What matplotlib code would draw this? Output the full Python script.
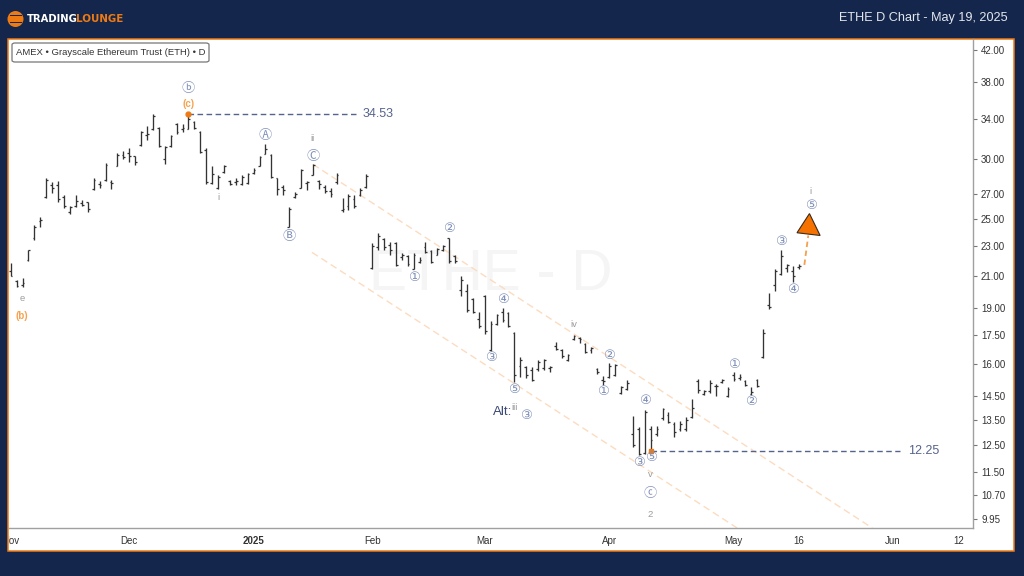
#!/usr/bin/env python3
# ETHE daily bars with Elliott wave labels, TradingLounge style

import numpy as np
import matplotlib
matplotlib.use("Agg")
import matplotlib.pyplot as plt
from matplotlib.patches import Rectangle, Circle, FancyBboxPatch, Polygon
from matplotlib.transforms import Bbox

plt.rcParams['font.family'] = ['Liberation Sans', 'DejaVu Sans']

# daily OHLC, one entry per trading day from Nov 1 2024 to May 16 2025
opens = [21.3, 20.65, 20.4, 22.0, 23.6, 24.8, 26.7, 27.7, 27.7, 26.7,
         25.5, 26.0, 26.2, 26.3, 27.4, 27.8, 28.2, 28.0, 29.4, 30.4,
         30.6, 30.3, 31.35, 32.3, 32.9, 33.0, 30.0, 31.3, 33.4, 32.9,
         32.95, 33.6, 32.6, 30.9, 27.9, 27.5, 28.9, 28.1, 28.0, 27.8,
         27.9, 28.8, 29.4, 30.5, 30.4, 28.3, 27.6, 24.4, 26.7, 27.5,
         27.9, 28.6, 28.1, 27.6, 27.2, 28.0, 25.7, 26.0, 26.6, 26.9,
         27.6, 21.5, 22.9, 23.5, 23.1, 23.2, 22.2, 22.3, 21.45, 21.9,
         22.9, 22.65, 22.4, 22.7, 23.55, 22.3, 20.1, 20.0, 19.55, 18.4,
         19.7, 16.7, 18.1, 18.8, 18.7, 17.6, 15.9, 15.85, 15.7, 15.75,
         15.8, 15.8, 16.9, 16.7, 16.2, 17.3, 17.35, 17.05, 16.7, 15.75,
         15.25, 15.4, 15.5, 14.65, 14.85, 12.9, 13.1, 12.2, 13.1, 12.9,
         13.55, 13.7, 13.3, 13.1, 13.1, 13.6, 15.2, 14.6, 14.75, 14.95,
         15.15, 14.5, 15.5, 15.35, 15.2, 14.6, 15.25, 16.35, 19.2, 20.4,
         21.1, 21.5, 21.3, 21.55]
highs = [21.8, 20.7, 20.85, 22.75, 24.5, 25.15, 28.35, 27.95, 28.05, 26.9,
         26.0, 26.9, 26.5, 26.35, 28.35, 28.1, 29.7, 28.2, 30.55, 30.75,
         31.05, 30.35, 32.7, 33.2, 34.45, 33.1, 31.3, 32.3, 33.5, 33.4,
         34.53, 33.7, 32.7, 31.05, 29.35, 28.55, 29.45, 28.2, 28.35, 28.55,
         28.8, 29.25, 30.35, 31.4, 30.45, 28.35, 27.75, 25.9, 27.15, 29.1,
         28.1, 29.55, 28.2, 27.7, 27.45, 28.75, 26.65, 26.95, 26.9, 27.45,
         28.7, 23.2, 23.95, 23.55, 23.25, 23.3, 22.5, 22.4, 22.5, 22.2,
         23.25, 22.7, 22.85, 23.1, 23.6, 22.4, 20.95, 20.45, 19.6, 18.8,
         19.8, 18.25, 18.65, 19.0, 18.8, 17.65, 16.35, 15.9, 15.85, 16.2,
         16.25, 15.9, 17.15, 16.75, 16.5, 17.5, 17.4, 17.1, 16.85, 15.8,
         15.45, 16.05, 16.0, 14.95, 15.25, 13.65, 13.2, 13.9, 13.25, 13.25,
         14.0, 13.8, 13.4, 13.45, 13.6, 14.4, 15.3, 14.8, 15.25, 15.05,
         15.3, 14.9, 15.6, 15.55, 15.25, 14.9, 15.3, 17.8, 19.9, 21.45,
         22.75, 21.75, 21.65, 21.75]
lows = [21.0, 20.3, 20.3, 21.95, 23.4, 24.35, 26.65, 27.05, 26.35, 25.85,
        25.4, 25.9, 26.0, 25.55, 27.3, 27.45, 28.1, 27.4, 29.35, 30.05,
        29.8, 29.45, 31.3, 31.8, 32.8, 31.2, 29.55, 31.2, 32.4, 32.6,
        32.9, 32.9, 30.55, 27.85, 27.8, 27.4, 28.8, 27.7, 27.7, 27.7,
        27.85, 28.7, 29.35, 30.45, 28.3, 26.9, 26.9, 24.35, 26.65, 27.45,
        27.3, 28.55, 27.4, 27.05, 26.75, 27.85, 25.55, 25.7, 25.85, 26.8,
        27.45, 21.45, 22.75, 22.75, 22.4, 21.65, 22.05, 21.65, 21.4, 21.8,
        22.5, 21.8, 22.35, 22.65, 21.85, 21.85, 19.75, 18.8, 18.7, 17.9,
        17.55, 16.65, 18.05, 18.2, 17.95, 15.15, 15.4, 15.35, 15.2, 15.65,
        15.7, 15.6, 16.7, 16.3, 16.15, 17.25, 17.1, 16.55, 16.55, 15.55,
        15.0, 15.35, 15.45, 14.6, 14.8, 12.4, 12.1, 12.15, 12.25, 12.85,
        13.5, 13.35, 12.8, 13.05, 13.05, 13.55, 14.65, 14.55, 14.65, 14.5,
        15.1, 14.45, 15.2, 15.25, 14.95, 14.55, 14.9, 16.3, 18.95, 20.05,
        21.05, 21.25, 20.6, 21.4]
closes = [20.95, 20.35, 20.5, 22.7, 24.4, 24.9, 28.2, 27.5, 26.6, 26.0,
          25.95, 26.4, 26.05, 25.8, 28.2, 27.7, 29.5, 27.9, 30.4, 30.2,
          30.3, 29.8, 32.6, 32.4, 34.3, 31.3, 31.2, 32.2, 32.6, 33.0,
          34.0, 33.0, 30.7, 28.0, 28.7, 28.4, 29.4, 27.8, 28.1, 28.4,
          28.7, 29.0, 30.2, 31.0, 28.4, 27.4, 27.3, 25.8, 27.0, 29.0,
          28.0, 29.5, 27.8, 27.2, 27.0, 28.6, 25.8, 26.8, 26.0, 27.3,
          28.5, 23.0, 23.7, 22.9, 22.7, 21.7, 22.4, 21.75, 22.4, 22.0,
          22.55, 21.9, 22.8, 23.0, 21.95, 21.95, 20.7, 18.9, 18.8, 18.0,
          17.7, 18.1, 18.6, 18.3, 18.0, 15.5, 16.2, 15.5, 15.25, 16.1,
          16.2, 15.85, 16.75, 16.4, 16.45, 17.45, 17.3, 16.6, 16.8, 15.6,
          15.2, 15.9, 15.95, 14.9, 15.1, 12.5, 12.15, 13.8, 12.7, 13.1,
          13.95, 13.4, 13.0, 13.3, 13.5, 14.0, 14.8, 14.75, 15.1, 14.95,
          15.25, 14.85, 15.3, 15.4, 15.0, 14.7, 14.95, 17.6, 19.1, 21.3,
          22.3, 21.7, 21.0, 21.6]

# axis ticks
price_ticks = [42, 38, 34, 30, 27, 25, 23, 21, 19, 17.5, 16, 14.5, 13.5, 12.5, 11.5, 10.7, 9.95]
date_ticks = [0, 20, 41, 61, 80, 101, 122, 133, 148.9, 160.05]
date_labels = ['Nov', 'Dec', '2025', 'Feb', 'Mar', 'Apr', 'May', '16', 'Jun', '12']

# key levels
high_level = 34.53
low_level = 12.25

# wave labels: text, bar index, price
circle_labels = [('ⓑ', 30, 37.3), ('Ⓐ', 43, 32.3), ('Ⓒ', 51, 30.3), ('Ⓑ', 47, 23.65),
                 ('①', 68, 20.85), ('②', 74, 24.25), ('③', 81, 16.35), ('④', 83, 19.5),
                 ('⑤', 85, 14.8), ('③', 87, 13.65), ('②', 101, 16.45), ('①', 100, 14.7),
                 ('④', 107, 14.3), ('③', 106, 11.85), ('⑤', 108, 12.0), ('ⓒ', 108, 10.75),
                 ('①', 122, 16.0), ('②', 125, 14.25), ('③', 130, 23.35), ('④', 132, 20.15),
                 ('⑤', 135, 26.0)]
grey_labels = [('ii', 50.9, 32.0), ('i', 35, 26.65), ('e', 1.9, 19.6), ('iii', 85, 14.0),
               ('iv', 95, 18.1), ('v', 108, 11.4), ('2', 108, 10.1), ('i', 135, 27.2)]
orange_labels = [('(c)', 30, 35.55), ('(b)', 1.9, 18.55)]

NAVY = '#14264b'
ORANGE = '#ee7a14'
SLATE = '#56648c'
CIRCLE = '#7f8fb8'

W, H = 1024, 576
fig = plt.figure(figsize=(W / 100, H / 100), dpi=100, facecolor=NAVY)

# white panel with the orange border, behind the axes
fig.add_artist(Rectangle((8 / W, 1 - 551 / H), 1006 / W, 512 / H, transform=fig.transFigure,
                         facecolor='white', edgecolor=ORANGE, lw=1.1, zorder=-2))

# watermark
fig.text(491 / W, 1 - 275 / H, 'ETHE - D', fontsize=41, color='#f5f5f5',
         ha='center', va='center', zorder=-1)

ax = fig.add_axes([9 / W, 1 - 528 / H, 964 / W, 489 / H])
ax.patch.set_alpha(0)
ax.set_yscale('log')
ax.set_xlim(-0.287, 162.4)
ax.set_ylim(9.68, 43.4)

# channel lines
channel_color = '#fcdcc0'
ax.plot([51.0, 145.4], [29.55, 9.68], color=channel_color, lw=1, ls=(0, (5, 3)), zorder=1)
ax.plot([50.85, 122.6], [22.55, 9.68], color=channel_color, lw=1, ls=(0, (5, 3)), zorder=1)

# OHLC bars
bar_idx = np.arange(len(highs))
ax.vlines(bar_idx, lows, highs, color='#333333', lw=0.95, zorder=3)
ax.hlines(opens, bar_idx - 0.3, bar_idx, color='#333333', lw=0.9, zorder=3)
ax.hlines(closes, bar_idx, bar_idx + 0.3, color='#333333', lw=0.9, zorder=3)

# levels
ax.plot([30, 58.3], [high_level, high_level], color=SLATE, lw=1, ls=(0, (4, 2.5)), zorder=2)
ax.plot([108, 150.1], [low_level, low_level], color=SLATE, lw=1, ls=(0, (4, 2.5)), zorder=2)
ax.plot([30], [high_level], 'o', color=ORANGE, ms=3.5, zorder=4)
ax.plot([108], [low_level], 's', color=ORANGE, ms=3.5, zorder=4)
ax.text(59.45, high_level, f'{high_level:.2f}', color=SLATE, fontsize=9, va='center')
ax.text(151.4, low_level, f'{low_level:.2f}', color=SLATE, fontsize=9, va='center')

# projection arrow
ax.plot([133.94, 134.6], [21.7, 23.75], color='#f5a04d', lw=1.3, ls=(0, (3, 2)), zorder=3)
ax.add_patch(Polygon([(134.8, 25.4), (132.7, 23.95), (136.6, 23.75)], closed=True,
                     facecolor='#f57200', edgecolor='#3a2a1a', lw=0.8, zorder=4))

# wave labels
for text, idx, price in circle_labels:
    ax.text(idx, price, text, color=CIRCLE, fontsize=9.5, ha='center', va='center',
            family=['DejaVu Sans', 'Noto Sans CJK JP'], zorder=5)
for text, idx, price in grey_labels:
    ax.text(idx, price, text, color='#9c9c9c', fontsize=6.8, ha='center', va='center', zorder=5)
for text, idx, price in orange_labels:
    ax.text(idx, price, text, color='#f7a250', fontsize=7, fontweight='bold',
            ha='center', va='center', zorder=5)
ax.text(83, 13.8, 'Alt:', color='#3a4874', fontsize=9.5, ha='center', va='center', zorder=5)

# axes
for side in ['top', 'left']:
    ax.spines[side].set_visible(False)
for side in ['right', 'bottom']:
    ax.spines[side].set_color('#a0a0a0')
    ax.spines[side].set_linewidth(1)
ax.yaxis.tick_right()
ax.set_yticks(price_ticks)
ax.set_yticklabels([f'{p:.2f}' for p in price_ticks])
ax.minorticks_off()
ax.tick_params(axis='y', length=3, width=0.8, color='#777777', pad=2.8, labelsize=7, labelcolor='#333333')
ax.set_xticks(date_ticks)
ax.set_xticklabels(date_labels)
ax.tick_params(axis='x', length=0, pad=5.5, labelsize=7, labelcolor='#333333')

# Nov is cut off by the panel edge
clip = Bbox.from_extents(9, 0, W, H)
for lbl in ax.get_xticklabels():
    lbl.set_clip_box(clip)
    lbl.set_clip_on(True)
    if lbl.get_text() == '2025':
        lbl.set_fontweight('bold')

# symbol box
fig.add_artist(FancyBboxPatch((12 / W, 1 - 62 / H), 197 / W, 19 / H, transform=fig.transFigure,
                              boxstyle='round,pad=0,rounding_size=0.003', facecolor='white',
                              edgecolor='#777777', lw=0.9))
fig.text(16 / W, 1 - 52.5 / H, 'AMEX • Grayscale Ethereum Trust (ETH) • D', fontsize=6.8,
         color='#333333', va='center')

# header: logo and title
fig.add_artist(Circle((15.5, H - 19), 8, transform=None, facecolor=ORANGE, edgecolor='none'))
for y in [15.5, 22.5]:
    fig.add_artist(Rectangle((9.5 / W, 1 - (y + 0.7) / H), 12 / W, 1.4 / H,
                             transform=fig.transFigure, facecolor=NAVY, edgecolor='none'))
fig.text(27 / W, 1 - 19 / H, 'TRADING', fontsize=7.2, fontweight='bold', color='white',
         family='DejaVu Sans', va='center')
fig.text(76 / W, 1 - 19 / H, 'LOUNGE', fontsize=7.4, fontweight='bold', color=ORANGE,
         family='DejaVu Sans', va='center')
fig.text(1008 / W, 1 - 18 / H, 'ETHE D Chart - May 19, 2025', fontsize=9.1, color='#e4e7ee',
         ha='right', va='center')

fig.savefig('out.png', dpi=100, facecolor=NAVY)
